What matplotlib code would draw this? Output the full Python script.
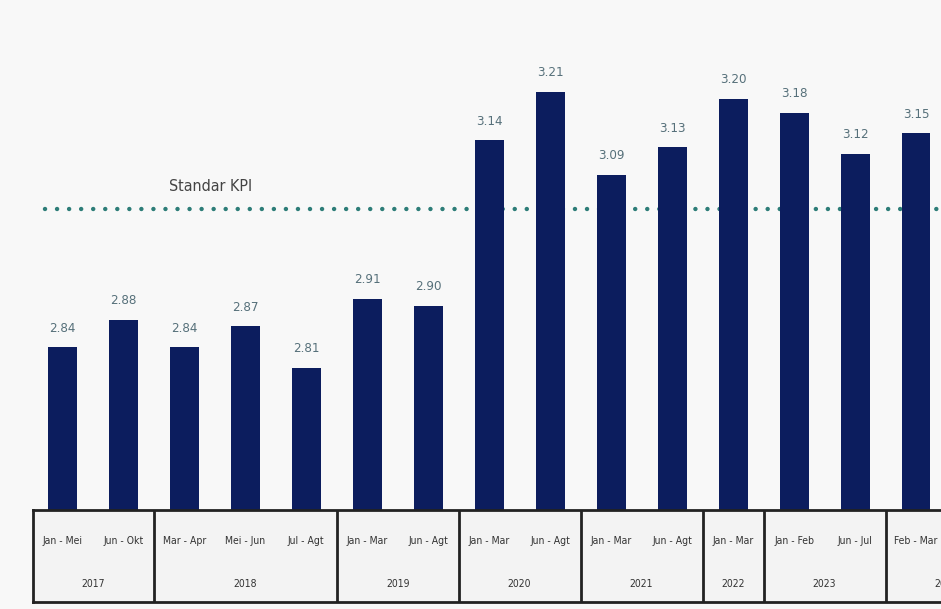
import numpy as np
import matplotlib.pyplot as plt

# data
periods = ["Jan - Mei", "Jun - Okt", "Mar - Apr", "Mei - Jun", "Jul - Agt",
           "Jan - Mar", "Jun - Agt", "Jan - Mar", "Jun - Agt", "Jan - Mar",
           "Jun - Agt", "Jan - Mar", "Jan - Feb", "Jun - Jul", "Feb - Mar"]
values = [2.84, 2.88, 2.84, 2.87, 2.81, 2.91, 2.90, 3.14, 3.21, 3.09,
          3.13, 3.20, 3.18, 3.12, 3.15]
years = ["2017", "2018", "2019", "2020", "2021", "2022", "2023", "2024"]
year_sizes = [2, 3, 2, 2, 2, 1, 2, 2]   # last group runs off the right edge
kpi = 3.04
kpi_label = "Standar KPI"

narrow = dict(family="DejaVu Sans", stretch="condensed")
bar_color = "#0c1d5e"
x = np.arange(len(values))
xlim = (-0.48, 14.41)

fig = plt.figure(figsize=(9.41, 6.09), dpi=100, facecolor="#f8f8f8")

ax = fig.add_axes([33 / 941, (609 - 510) / 609, 908 / 941, 488 / 609])
ax.set_facecolor("#f6f6f6")
ax.bar(x, values, width=0.475, color=bar_color, zorder=3)
ax.plot([-0.28, xlim[1]], [kpi, kpi], color="#2d7d78", linewidth=3.2,
        linestyle=(0, (0.01, 2.7)), dash_capstyle="round", zorder=2)
ax.text(2.43, kpi + 0.033, kpi_label, ha="center", va="center",
        fontsize=11.5, color="#444444", **narrow)
for xi, v in zip(x, values):
    ax.annotate(f"{v:.2f}", (xi, v), xytext=(0, 9), textcoords="offset points",
                ha="center", va="bottom", fontsize=9.5, color="#56707a",
                **narrow)
ax.set_xlim(*xlim)
ax.set_ylim(2.604, 2.604 + 488 / 690)
ax.axis("off")

# table below the bars
tb = fig.add_axes([33 / 941, (609 - 602) / 609, 908 / 941, 92 / 609])
tb.set_facecolor("#f3f3f3")
tb.set_xlim(*xlim)
tb.set_ylim(0, 1)
tb.set_xticks([])
tb.set_yticks([])
for side in ["left", "top", "bottom"]:
    tb.spines[side].set_linewidth(2)
    tb.spines[side].set_color("#222222")
tb.spines["right"].set_visible(False)

for xi, p in zip(x, periods):
    tb.text(xi, 0.66, p, ha="center", va="center", fontsize=7.5,
            color="#333333", **narrow)

start = 0
for yr, n in zip(years, year_sizes):
    tb.text(start + (n - 1) / 2, 0.2, yr, ha="center", va="center",
            fontsize=7.5, color="#333333", **narrow)
    if start > 0:
        tb.axvline(start - 0.5, color="#222222", linewidth=2)
    start += n

fig.savefig("out.png", dpi=100, facecolor=fig.get_facecolor())
